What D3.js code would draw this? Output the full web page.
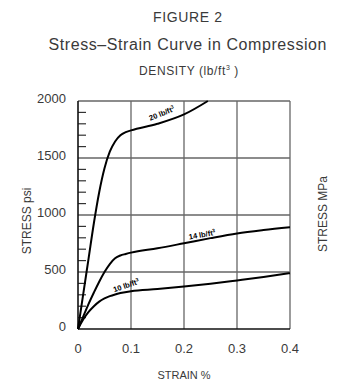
<!DOCTYPE html>
<html><head><meta charset="utf-8">
<script src="https://cdn.jsdelivr.net/npm/d3@7"></script>
<style>body{margin:0;background:#fff}svg{display:block}text{font-family:"Liberation Sans",Arial,sans-serif;fill:#3a3a3a}</style>
</head><body><div id="c"></div>
<script>
const xTicks = [0, 0.1, 0.2, 0.3, 0.4];
const xTickLabels = ["0", "0.1", "0.2", "0.3", "0.4"];
const yTicks = [0, 500, 1000, 1500, 2000];
const yTickLabels = ["0", "500", "1000", "1500", "2000"];
const yMinor = [100,200,300,400,600,700,800,900,1100,1200,1300,1400,1600,1700,1800,1900];

const strain10 = [0,0.01,0.02,0.03,0.04,0.05,0.06,0.07,0.08,0.1,0.15,0.2,0.25,0.3,0.35,0.4];
const stress10 = [0,85,150,200,240,268,288,303,315,332,350,372,397,426,456,490];
const strain14 = [0,0.01,0.02,0.03,0.04,0.05,0.06,0.07,0.08,0.09,0.1,0.15,0.2,0.25,0.3,0.35,0.4];
const stress14 = [0,110,220,320,415,500,570,620,645,658,670,708,752,797,838,868,893];
const strain20 = [0,0.01,0.02,0.03,0.04,0.05,0.06,0.07,0.08,0.09,0.1,0.15,0.2,0.245];
const stress20 = [0,310,620,930,1200,1410,1555,1645,1700,1727,1742,1800,1882,2000];

const seriesLabels = ["10 lb/ft", "14 lb/ft", "20 lb/ft"];

const W = 340, H = 391;
const svg = d3.select("#c").append("svg").attr("width", W).attr("height", H);
const x = d3.scaleLinear().domain([0, 0.4]).range([78, 290]);
const y = d3.scaleLinear().domain([0, 2000]).range([329, 101]);

// titles
svg.append("text").attr("x", 187.5).attr("y", 22).attr("text-anchor", "middle")
  .attr("font-size", 14).attr("textLength", 69).text("FIGURE 2");
svg.append("text").attr("x", 187.5).attr("y", 50).attr("text-anchor", "middle")
  .attr("font-size", 16).attr("textLength", 278).text("Stress\u2013Strain Curve in Compression");
const dens = svg.append("text").attr("x", 189).attr("y", 75).attr("text-anchor", "middle")
  .attr("font-size", 12).attr("letter-spacing", 0.6);
dens.append("tspan").text("DENSITY (lb/ft");
dens.append("tspan").attr("font-size", 7).attr("dy", -5).text("3");
dens.append("tspan").attr("dy", 5).text(" )");

// grid
const g = svg.append("g");
g.selectAll(".vg").data(xTicks.slice(1)).enter().append("line")
  .attr("x1", d => x(d)).attr("x2", d => x(d)).attr("y1", y(0)).attr("y2", y(2000))
  .attr("stroke", "#666").attr("stroke-width", 1.3);
g.selectAll(".hg").data(yTicks.slice(1)).enter().append("line")
  .attr("x1", x(0)).attr("x2", x(0.4)).attr("y1", d => y(d)).attr("y2", d => y(d))
  .attr("stroke", "#666").attr("stroke-width", 1.3);
// minor ticks
g.selectAll(".mt").data(yMinor).enter().append("line")
  .attr("x1", x(0)).attr("x2", x(0) + 8).attr("y1", d => y(d)).attr("y2", d => y(d))
  .attr("stroke", "#333").attr("stroke-width", 1.2);
// axes
g.append("line").attr("x1", x(0)).attr("x2", x(0)).attr("y1", y(0)).attr("y2", y(2000)).attr("stroke", "#111").attr("stroke-width", 1.6);
g.append("line").attr("x1", x(0)).attr("x2", x(0.4)).attr("y1", y(0)).attr("y2", y(0)).attr("stroke", "#111").attr("stroke-width", 1.6);

// tick labels
svg.selectAll(".yl").data(yTicks).enter().append("text")
  .attr("x", 66).attr("y", d => y(d) + 2).attr("text-anchor", "end").attr("font-size", 13)
  .text((d, i) => yTickLabels[i]);
svg.selectAll(".xl").data(xTicks).enter().append("text")
  .attr("x", d => x(d)).attr("y", 353).attr("text-anchor", "middle").attr("font-size", 13)
  .text((d, i) => xTickLabels[i]);

// axis titles
svg.append("text").attr("x", 184).attr("y", 379).attr("text-anchor", "middle").attr("font-size", 11).text("STRAIN  %");
svg.append("text").attr("transform", "translate(31,221) rotate(-90)").attr("text-anchor", "middle").attr("font-size", 12).text("STRESS  psi");
svg.append("text").attr("transform", "translate(327,214) rotate(-90)").attr("text-anchor", "middle").attr("font-size", 12).text("STRESS  MPa");

// curves
const line = d3.line().x(d => x(d[0])).y(d => y(d[1])).curve(d3.curveMonotoneX);
[[strain10, stress10], [strain14, stress14], [strain20, stress20]].forEach(([sx, sy]) => {
  svg.append("path").attr("d", line(sx.map((v, i) => [v, sy[i]])))
    .attr("fill", "none").attr("stroke", "#000").attr("stroke-width", 2);
});

// curve labels
const lbls = [
  {i: 0, cx: 0.0925, cy: 360, rot: -19},
  {i: 1, cx: 0.235, cy: 805, rot: -10},
  {i: 2, cx: 0.16, cy: 1870, rot: -22}
];
lbls.forEach(l => {
  const t = svg.append("text").attr("transform", `translate(${x(l.cx)},${y(l.cy)}) rotate(${l.rot})`)
    .attr("text-anchor", "middle").attr("font-size", 7.5).attr("font-weight", "bold").style("fill", "#000");
  t.append("tspan").text(seriesLabels[l.i]);
  t.append("tspan").attr("font-size", 5).attr("dy", -3).text("3");
});
</script></body></html>
